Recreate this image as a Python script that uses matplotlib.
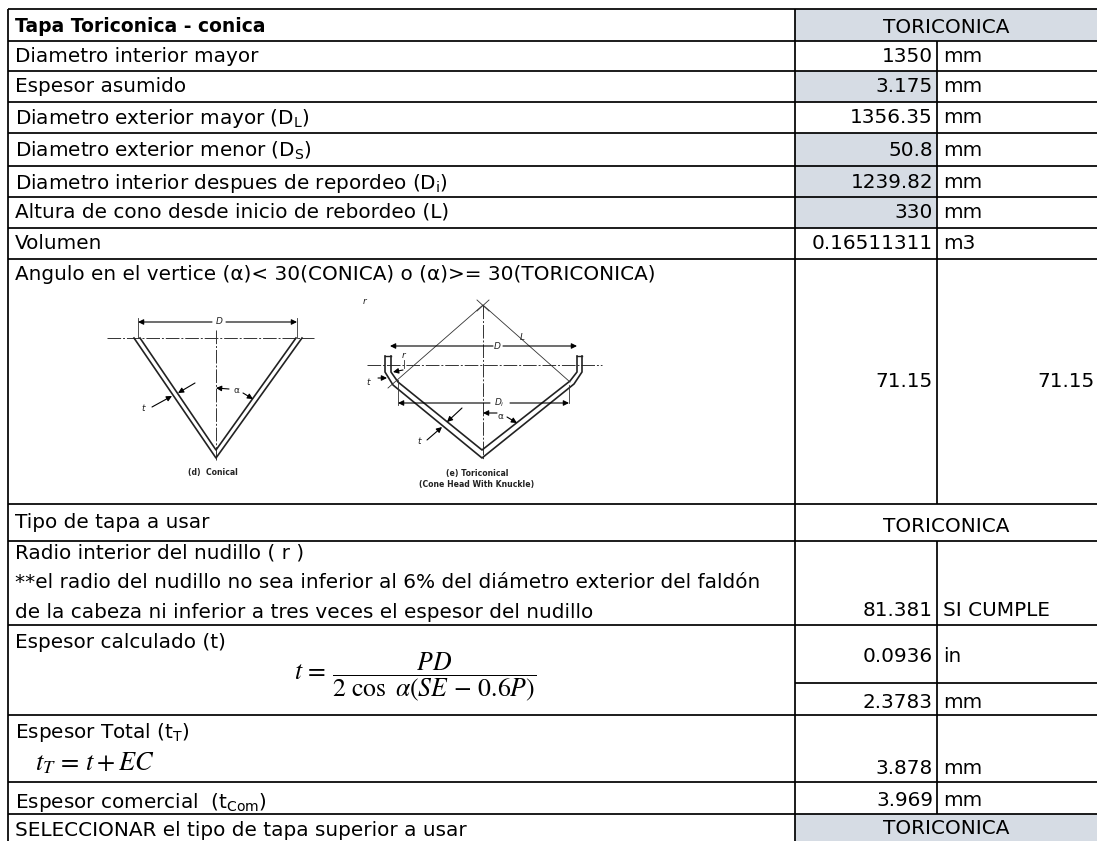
import matplotlib
matplotlib.use("Agg")
import matplotlib.pyplot as plt
from matplotlib.patches import Rectangle

plt.rcParams['font.family'] = ['DejaVu Sans']

# table content, top to bottom
row_labels = [
    "Diametro interior mayor",
    "Espesor asumido",
    r"Diametro exterior mayor (D$_{\mathrm{L}}$)",
    r"Diametro exterior menor (D$_{\mathrm{S}}$)",
    r"Diametro interior despues de repordeo (D$_{\mathrm{i}}$)",
    "Altura de cono desde inicio de rebordeo (L)",
    "Volumen",
]
row_values = ["1350", "3.175", "1356.35", "50.8", "1239.82", "330", "0.16511311"]
row_units = ["mm", "mm", "mm", "mm", "mm", "mm", "m3"]
row_shaded = [False, True, False, True, True, True, False]

title_label = "Tapa Toriconica - conica"
head_type = "TORICONICA"
angle_label = "Angulo en el vertice (α)< 30(CONICA) o (α)>= 30(TORICONICA)"
angle_values = ["71.15", "71.15"]
tipo_label = "Tipo de tapa a usar"
radio_lines = [
    "Radio interior del nudillo ( r )",
    "**el radio del nudillo no sea inferior al 6% del diámetro exterior del faldón",
    "de la cabeza ni inferior a tres veces el espesor del nudillo",
]
radio_value = "81.381"
radio_unit = "SI CUMPLE"
calc_label = "Espesor calculado (t)"
calc_values = ["0.0936", "2.3783"]
calc_units = ["in", "mm"]
total_label = r"Espesor Total (t$_{\mathrm{T}}$)"
total_value = "3.878"
com_label = r"Espesor comercial  (t$_{\mathrm{Com}}$)"
com_value = "3.969"
select_label = "SELECCIONAR el tipo de tapa superior a usar"

# grid layout in pixels
X_LEFT, X_VAL, X_UNIT, X_RIGHT = 8, 795, 937, 1097
row_edges = [41, 71, 102, 133, 166, 197, 228, 259]
row_text_y = [54, 84, 115, 148, 180, 210, 241]
Y_TOP, Y_ANGLE_END, Y_TIPO_END, Y_RADIO_END = 9, 504, 541, 625
Y_CALC_MID, Y_CALC_END, Y_TOTAL_END, Y_COM_END, Y_BOTTOM = 683, 715, 782, 814, 841
X_TEXT, X_VAL_R, X_UNIT_L = 15, 933, 943
SHADE = "#d6dce4"
FS = 14.4


def put(ax, x, y, s, ha="left", **kw):
    kw.setdefault("fontsize", FS)
    ax.text(x, y, s, ha=ha, va="center_baseline", color="black", **kw)


def hline(ax, y, x0=X_LEFT, x1=X_RIGHT, lw=1.25):
    ax.plot([x0, x1], [y, y], color="black", lw=lw, solid_capstyle="butt")


def vline(ax, x, y0, y1, lw=1.25):
    ax.plot([x, x], [y0, y1], color="black", lw=lw, solid_capstyle="butt")


def arrow(ax, p0, p1, lw=0.8):
    ax.annotate("", xy=p1, xytext=p0,
                arrowprops=dict(arrowstyle="-|>", color="black", lw=lw,
                                mutation_scale=8, shrinkA=0, shrinkB=0))


def small(ax, x, y, s, **kw):
    kw.setdefault("fontsize", 6.5)
    ax.text(x, y, s, ha="center", va="center", color="#222222", **kw)


def draw_conical(ax):
    axis = dict(color="#333333", lw=0.7, ls=(0, (14, 2, 2, 2)))
    ax.plot([107, 314], [338, 338], **axis)
    ax.plot([216, 216], [330, 460], **axis)
    # double wall of the cone
    ax.plot([134, 216, 302], [338, 458, 338], color="#222222", lw=1.2)
    ax.plot([140, 216, 296], [338, 450, 338], color="#222222", lw=1.2)
    ax.plot([138, 138], [318, 338], color="#333333", lw=0.6)
    ax.plot([297, 297], [318, 338], color="#333333", lw=0.6)
    arrow(ax, (212, 322), (138, 322))
    arrow(ax, (226, 322), (297, 322))
    small(ax, 219, 322, "D", style="italic")
    arrow(ax, (152, 407), (172, 396))
    arrow(ax, (195, 383), (178, 393))
    small(ax, 143, 408, "t", style="italic")
    arrow(ax, (229, 389), (216, 388))
    arrow(ax, (243, 393), (253, 399))
    small(ax, 236, 390, "α")
    small(ax, 213, 472, "(d)  Conical", fontsize=5.6, fontweight="bold")


def draw_toriconical(ax):
    axis = dict(color="#333333", lw=0.7, ls=(0, (14, 2, 2, 2)))
    ax.plot([367, 602], [365, 365], **axis)
    ax.plot([483, 483], [305, 460], **axis)
    # cone with knuckle, outer and inner wall
    ax.plot([385, 385, 393, 482, 574, 582, 582], [356, 372, 385, 458, 384, 372, 356],
            color="#222222", lw=1.2)
    ax.plot([391, 391, 398, 482, 570, 577, 577], [356, 372, 382, 450, 381, 372, 356],
            color="#222222", lw=1.2)
    ax.plot([385, 391], [356, 356], color="#222222", lw=1.0)
    ax.plot([577, 582], [356, 356], color="#222222", lw=1.0)
    # apex lines and their extensions
    ax.plot([388, 483, 570], [388, 305, 382], color="#333333", lw=0.6)
    ax.plot([477, 489], [300, 311], color="#333333", lw=0.6)
    ax.plot([489, 477], [300, 311], color="#333333", lw=0.6)
    arrow(ax, (493, 346), (390, 346))
    arrow(ax, (503, 346), (577, 346))
    small(ax, 497, 346, "D", style="italic")
    ax.plot([398, 398], [380, 405], color="#333333", lw=0.6)
    ax.plot([569, 569], [385, 403], color="#333333", lw=0.6)
    arrow(ax, (490, 403), (398, 403))
    arrow(ax, (510, 403), (569, 403))
    small(ax, 499, 403, "$D_i$")
    arrow(ax, (403, 370), (393, 372))
    ax.plot([404, 404], [360, 368], color="#333333", lw=0.6)
    small(ax, 404, 355, "r", style="italic")
    arrow(ax, (378, 378), (387, 378))
    small(ax, 368, 382, "t", style="italic")
    small(ax, 365, 302, "r", style="italic")
    arrow(ax, (427, 440), (442, 427))
    arrow(ax, (462, 408), (447, 422))
    small(ax, 419, 441, "t", style="italic")
    arrow(ax, (497, 413), (483, 413))
    arrow(ax, (507, 417), (517, 423))
    small(ax, 500, 416, "α")
    small(ax, 522, 337, "L", style="italic")
    small(ax, 477, 473, "(e) Toriconical", fontsize=5.6, fontweight="bold")
    small(ax, 477, 484, "(Cone Head With Knuckle)", fontsize=5.6, fontweight="bold")


fig = plt.figure(figsize=(10.97, 8.41), dpi=100)
ax = fig.add_axes([0, 0, 1, 1])
ax.set_xlim(0, 1097)
ax.set_ylim(841, 0)
ax.axis("off")

# shaded cells
ax.add_patch(Rectangle((X_VAL, Y_TOP), X_RIGHT - X_VAL, row_edges[0] - Y_TOP,
                       fc=SHADE, ec="none"))
ax.add_patch(Rectangle((X_VAL, Y_COM_END), X_RIGHT - X_VAL, Y_BOTTOM - Y_COM_END,
                       fc=SHADE, ec="none"))
for i, shaded in enumerate(row_shaded):
    if shaded:
        ax.add_patch(Rectangle((X_VAL, row_edges[i]), X_UNIT - X_VAL,
                               row_edges[i + 1] - row_edges[i], fc=SHADE, ec="none"))

# horizontal rules
for y in [Y_TOP] + row_edges + [Y_ANGLE_END, Y_TIPO_END, Y_RADIO_END, Y_CALC_END,
                                Y_TOTAL_END, Y_COM_END]:
    hline(ax, y)
hline(ax, Y_CALC_MID, X_VAL, X_RIGHT)

# vertical rules
vline(ax, X_LEFT, Y_TOP, Y_BOTTOM)
vline(ax, X_VAL, Y_TOP, Y_BOTTOM)
vline(ax, X_UNIT, row_edges[0], Y_ANGLE_END)
vline(ax, X_UNIT, Y_TIPO_END, Y_COM_END)

# header
put(ax, X_TEXT, 24, title_label, fontweight="bold", fontsize=13.5)
put(ax, (X_VAL + X_RIGHT) / 2, 25, head_type, ha="center")

# simple rows
for yc, label, value, unit in zip(row_text_y, row_labels, row_values, row_units):
    put(ax, X_TEXT, yc, label)
    put(ax, X_VAL_R, yc, value, ha="right")
    put(ax, X_UNIT_L, yc, unit)

# angle row with the two sketches
put(ax, X_TEXT, 273, angle_label)
put(ax, X_VAL_R, 379, angle_values[0], ha="right")
put(ax, X_RIGHT - 2, 379, angle_values[1], ha="right")
draw_conical(ax)
draw_toriconical(ax)

put(ax, X_TEXT, 520, tipo_label)
put(ax, (X_VAL + X_RIGHT) / 2, 525, head_type, ha="center")

for y, line in zip([551, 580, 610], radio_lines):
    put(ax, X_TEXT, y, line)
put(ax, X_VAL_R, 608, radio_value, ha="right")
put(ax, X_UNIT_L, 608, radio_unit)

put(ax, X_TEXT, 641, calc_label)
ax.text(294, 677, r"$t\,=\,\dfrac{PD}{2\ \cos\ \alpha\left(SE\,-\,0.6P\right)}$",
        fontsize=18.5, math_fontfamily="stix", ha="left", va="center")
for y, value, unit in zip([655, 701], calc_values, calc_units):
    put(ax, X_VAL_R, y, value, ha="right")
    put(ax, X_UNIT_L, y, unit)

put(ax, X_TEXT, 730, total_label)
ax.text(35, 763, r"$t_T\,=\,t+EC$", fontsize=19, math_fontfamily="stix",
        ha="left", va="center")
put(ax, X_VAL_R, 766, total_value, ha="right")
put(ax, X_UNIT_L, 766, "mm")

put(ax, X_TEXT, 799, com_label)
put(ax, X_VAL_R, 799, com_value, ha="right")
put(ax, X_UNIT_L, 799, "mm")

put(ax, X_TEXT, 828, select_label)
put(ax, (X_VAL + X_RIGHT) / 2, 826, head_type, ha="center")

fig.savefig("out.png", dpi=100)
